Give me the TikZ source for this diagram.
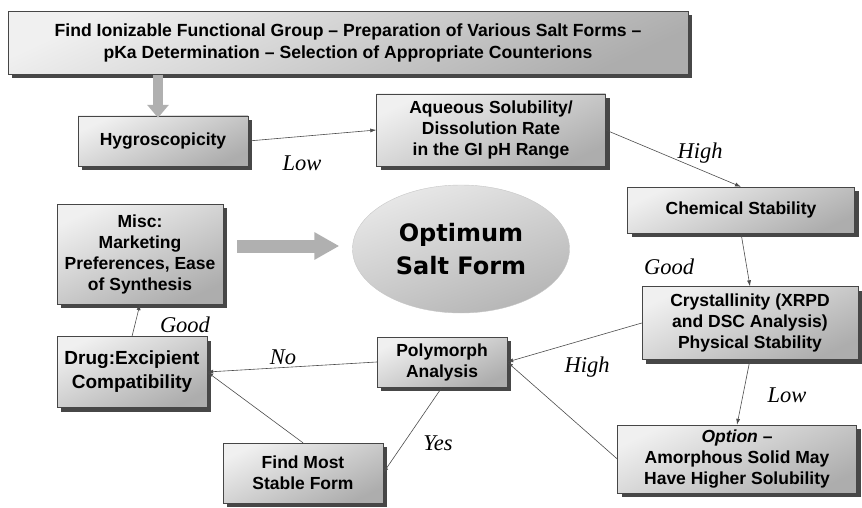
\documentclass[tikz,border=0pt]{standalone}
\usepackage{fontspec}
\setmainfont{Liberation Sans}
\newfontfamily\lblfont{Liberation Serif}
\newfontfamily\ovalfont{DejaVu Sans}
\usepackage{tikz}
\usetikzlibrary{arrows.meta,shadows,shapes.geometric}
\tikzset{>={Latex[length=6pt,width=4pt]}}

\begin{document}
\begin{tikzpicture}[x=1pt,y=-1pt,
                          box/.style={draw=gray!55!black, line width=.4pt, top color=gray!12, bottom color=gray!64, shading angle=25,
                                      drop shadow={shadow xshift=4pt,shadow yshift=-4pt,fill=black!72,opacity=1},
                                      align=center, inner sep=0pt, font=\bfseries\fontsize{17.5}{21}\selectfont},
                          oval/.style={ellipse, draw=gray!45, top color=gray!18, bottom color=gray!58, shading angle=20,
                                       align=center, inner sep=0pt, font=\ovalfont\bfseries\fontsize{24}{33}\selectfont},
                          link/.style={draw=gray!60!black, line width=.6pt, ->},
                          fatarrow/.style={draw=gray!62, line width=10pt},
                          lbl/.style={font=\lblfont\itshape\fontsize{22.5}{26}\selectfont},
                         ]

\useasboundingbox (0,0) rectangle (862,508);

% boxes
\node[box, minimum width=680, minimum height=63, font=\bfseries\fontsize{17.6}{22}\selectfont] (top) at (348,43)
      {Find Ionizable Functional Group -- Preparation of Various Salt Forms --\\pKa Determination -- Selection of Appropriate Counterions};
\node[box, minimum width=170, minimum height=50] (hyg) at (163,141) {Hygroscopicity};
\node[box, minimum width=229, minimum height=72] (aq) at (491,130) {Aqueous Solubility/\\Dissolution Rate\\in the GI pH Range};
\node[box, minimum width=227, minimum height=46] (chem) at (741,210) {Chemical Stability};
\node[box, minimum width=216, minimum height=73] (cryst) at (750,323) {Crystallinity (XRPD\\and DSC Analysis)\\Physical Stability};
\node[box, minimum width=239, minimum height=68] (opt) at (737,459) {\textit{Option} --\\Amorphous Solid May\\Have Higher Solubility};
\node[box, minimum width=130, minimum height=50] (poly) at (442,362) {Polymorph\\Analysis};
\node[box, minimum width=150, minimum height=71, font=\bfseries\fontsize{19}{24}\selectfont] (drug) at (132,372) {Drug:Excipient\\Compatibility};
\node[box, minimum width=160, minimum height=60] (stable) at (303,473) {Find Most\\Stable Form};
\node[box, minimum width=166, minimum height=100] (misc) at (140,254) {Misc:\\Marketing\\Preferences, Ease\\of Synthesis};
\node[oval, minimum width=217, minimum height=128] (best) at (461,249) {Optimum\\Salt Form};

% block arrows
\draw[fatarrow, -{Triangle[length=13pt,width=21pt]}] ([xshift=-5pt]hyg.north |- top.south) -- ([xshift=-5pt,yshift=-2pt]hyg.north);
\draw[fatarrow, line width=13pt, -{Triangle[length=25pt,width=26pt]}, shorten <=14pt, shorten >=13pt] ([yshift=8pt]misc.east) -- ([yshift=3pt]best.west);

% connectors
\draw[link] (hyg.east) -- (aq.west);
\draw[link] (aq.east) -- (chem.north);
\draw[link] (chem.south) -- (cryst.north);
\draw[link] (cryst.south) -- (opt.north);
\draw[link] (cryst.west) -- (poly.east);
\draw[link] (opt.west) -- (poly.east);
\draw[link] (poly.west) -- (drug.east);
\draw[link] (stable.north) -- (drug.east);
\draw[link] (poly.south) -- (stable.east);
\draw[link] (drug.north) -- (misc.south);

% labels
\node[lbl] (lowA) at (302,163) {Low};
\node[lbl] (highA) at (700,153) {High};
\node[lbl] (goodA) at (669,267) {Good};
\node[lbl] (lowB) at (787,395) {Low};
\node[lbl] (highB) at (587,367) {High};
\node[lbl] (yes) at (438,443) {Yes};
\node[lbl] (no) at (283,357) {No};
\node[lbl] (goodB) at (185,325) {Good};

\end{tikzpicture}
\end{document}
